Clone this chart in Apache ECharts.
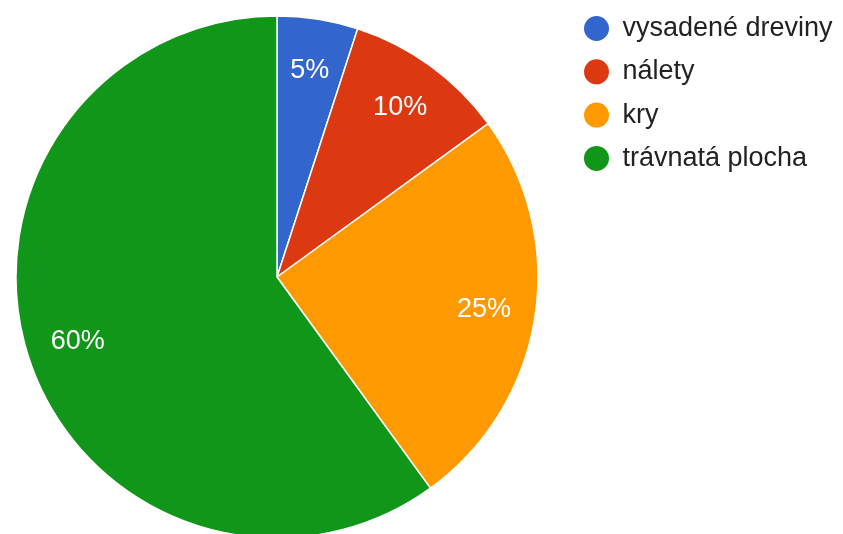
<!DOCTYPE html>
<html>
<head>
<meta charset="utf-8">
<script src="https://cdn.jsdelivr.net/npm/echarts@6/dist/echarts.min.js"></script>
<style>html,body{margin:0;padding:0;background:#fff}#c{width:843px;height:534px}</style>
</head>
<body>
<div id="c"></div>
<script>
const categories = ['vysadené dreviny', 'nálety', 'kry', 'trávnatá plocha'];
const values = [5, 10, 25, 60];
const colors = ['#3366cc', '#dc3912', '#ff9900', '#109618'];

const chart = echarts.init(document.getElementById('c'), null, {renderer: 'canvas'});
const data = categories.map((n, i) => ({name: n, value: values[i]}));
const font = '"Liberation Sans", Arial, sans-serif';
chart.setOption({
  animation: false,
  color: colors,
  legend: {
    orient: 'vertical',
    left: 582,
    top: 14,
    padding: 0,
    icon: 'circle',
    itemWidth: 28,
    itemHeight: 27,
    itemGap: 14.3,
    textStyle: {fontFamily: font, fontSize: 27, lineHeight: 27, color: '#222', padding: [0, 0, 0, 7]},
    data: categories
  },
  series: [
    {
      type: 'pie',
      center: [277, 277],
      radius: [0, 261],
      startAngle: 90,
      clockwise: true,
      silent: true,
      itemStyle: {borderColor: '#fff', borderWidth: 1.5},
      label: {show: false},
      labelLine: {show: false},
      data: data
    },
    {
      type: 'pie',
      center: [277, 277],
      radius: [152, 261],
      startAngle: 90,
      clockwise: true,
      silent: true,
      itemStyle: {color: 'rgba(0,0,0,0)'},
      label: {
        show: true,
        position: 'inside',
        formatter: p => p.value + '%',
        fontFamily: font,
        fontSize: 27,
        color: '#fff'
      },
      labelLine: {show: false},
      data: data
    }
  ]
});
</script>
</body>
</html>
